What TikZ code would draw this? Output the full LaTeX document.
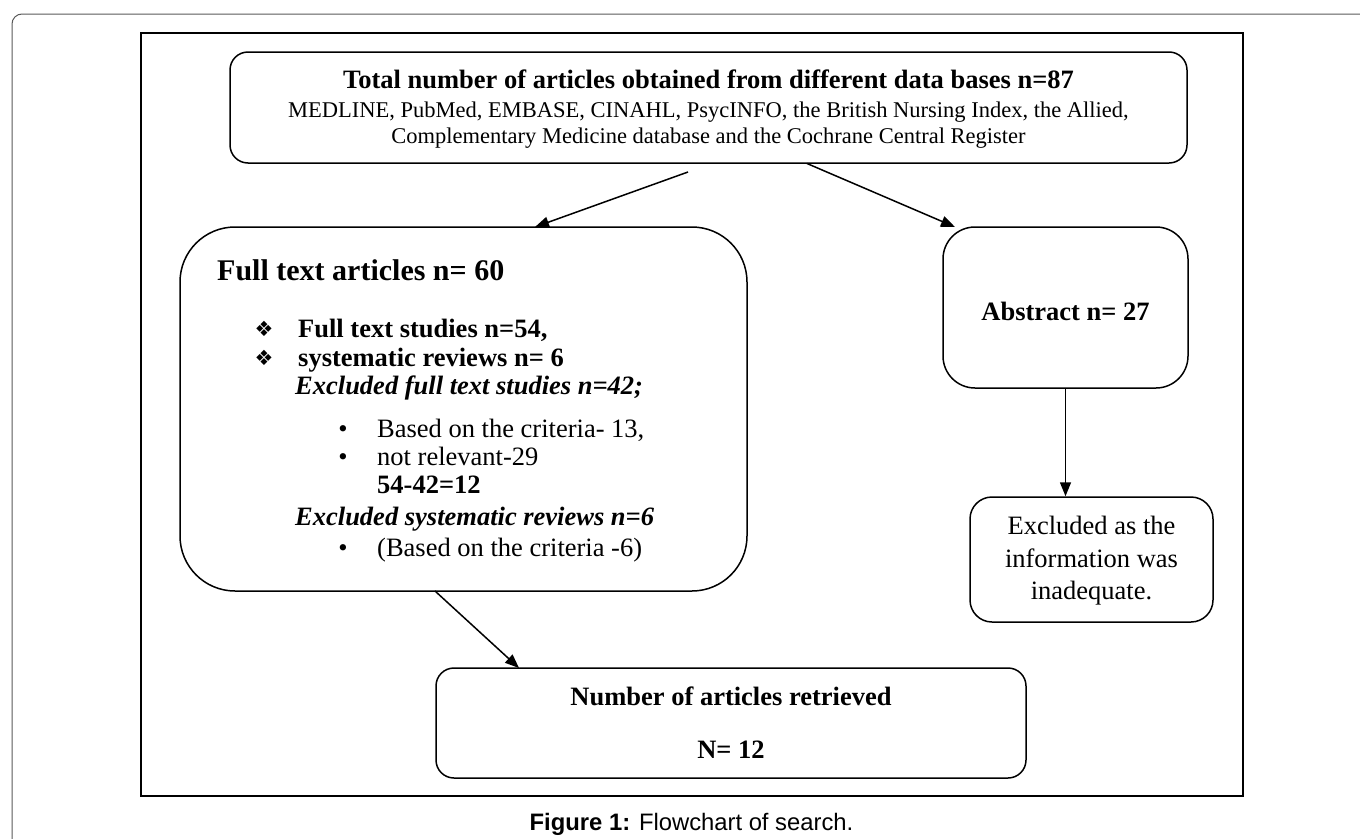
\documentclass[tikz,border=0pt]{standalone}
\usepackage{fontspec}
\setmainfont{Liberation Serif}
\newfontfamily\capfont{Liberation Sans}
\newfontfamily\dingfont{DejaVu Sans}
\usetikzlibrary{arrows.meta,calc}
\begin{document}
\begin{tikzpicture}[x=1pt,y=-1pt,
  box/.style={draw, line width=1.5pt, rounded corners=#1, inner sep=0pt},
  arr/.style={-{Triangle[length=14pt,width=11pt]}, line width=1.5pt},
  bt/.style={font=\fontsize{26.5}{30}\selectfont\bfseries, inner sep=0pt},
  bit/.style={font=\fontsize{26.5}{30}\selectfont\bfseries\itshape, inner sep=0pt},
  rt/.style={font=\fontsize{26.5}{30}\selectfont, inner sep=0pt},
  st/.style={font=\fontsize{22.5}{27}\selectfont, inner sep=0pt},
  dia/.style={font=\dingfont\fontsize{21}{24}\selectfont, inner sep=0pt},
  bul/.style={font=\fontsize{26.5}{30}\selectfont, inner sep=0pt}]
\useasboundingbox (0,0) rectangle (1360,838);
% page frame
\draw[line width=1pt, black!65, rounded corners=10pt] (12,850) -- (12,14) -- (1375,14);
% figure frame
\node[draw, line width=1.5pt, inner sep=0pt, minimum width=1102pt, minimum height=763pt] (frame) at (692,414.5) {};
% boxes
\node[box=18pt, minimum width=957pt, minimum height=111pt] (top) at (708.5,107.5) {};
\node[box=55pt, minimum width=567pt, minimum height=364pt] (ft) at (463.5,409) {};
\node[box=32pt, minimum width=245pt, minimum height=161pt] (abs) at (1065.5,307.5) {};
\node[box=22pt, minimum width=243pt, minimum height=125pt] (exc) at (1091.5,559.5) {};
\node[box=18pt, minimum width=590pt, minimum height=110pt] (num) at (731,723) {};
% top text
\node[bt, anchor=base] (t1) at (708.5,88) {Total number of articles obtained from different data bases n=87};
\node[st, anchor=base] (t2) at (708.5,117) {MEDLINE, PubMed, EMBASE, CINAHL, PsycINFO, the British Nursing Index, the Allied,};
\node[st, anchor=base] (t3) at (708.5,143) {Complementary Medicine database and the Cochrane Central Register};
% full text box
\node[font=\fontsize{30}{34}\selectfont\bfseries, inner sep=0pt, anchor=base west] (f0) at (217,280) {Full text articles n= 60};
\node[dia, anchor=base] (d1) at (264,336) {❖};
\node[bt, anchor=base west] (f1) at (298,337) {Full text studies n=54,};
\node[dia, anchor=base] (d2) at (264,365) {❖};
\node[bt, anchor=base west] (f2) at (298,366) {systematic reviews n= 6};
\node[bit, anchor=base west] (f3) at (295,394) {Excluded full text studies n=42;};
\node[bul, anchor=base] (b1) at (343,437) {•};
\node[rt, anchor=base west] (f4) at (377,437) {Based on the criteria- 13,};
\node[bul, anchor=base] (b2) at (343,465) {•};
\node[rt, anchor=base west] (f5) at (377,465) {not relevant-29};
\node[bt, anchor=base west] (f6) at (377,493) {54-42=12};
\node[bit, anchor=base west] (f7) at (295,525) {Excluded systematic reviews n=6};
\node[bul, anchor=base] (b3) at (343,556) {•};
\node[rt, anchor=base west] (f8) at (377,556) {(Based on the criteria -6)};
% abstract
\node[bt, anchor=base] (a1) at (1065.5,320) {Abstract n= 27};
% excluded
\node[rt, anchor=base] (e1) at (1091.5,534) {Excluded as the};
\node[rt, anchor=base] (e2) at (1091.5,567) {information was};
\node[rt, anchor=base] (e3) at (1091.5,599) {inadequate.};
% number
\node[bt, anchor=base] (n1) at (731,705) {Number of articles retrieved};
\node[bt, anchor=base] (n2) at (731,758) {N= 12};
% arrows
\coordinate (a1s) at (688,172);
\coordinate (a1e) at (535,227);
\coordinate (a2s) at (807,163.5);
\coordinate (a2e) at (955,227);
\coordinate (a4s) at (435,591);
\coordinate (a4e) at (519,668);
\draw[arr] (a1s) -- (a1e);
\draw[arr] (a2s) -- (a2e);
\draw[arr] (abs.south) -- (abs.south |- exc.north);
\draw[arr] (a4s) -- (a4e);
% caption
\node[font=\capfont\fontsize{23.8}{28}\selectfont, inner sep=0pt, anchor=base] (cap) at (691.5,830) {\textbf{Figure 1:} Flowchart of search.};
\end{tikzpicture}
\end{document}
